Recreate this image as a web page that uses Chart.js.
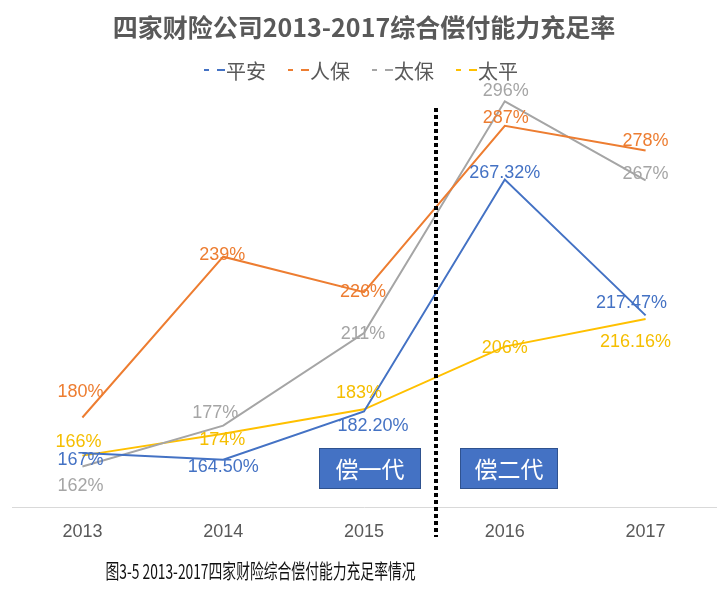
<!DOCTYPE html>
<html><head><meta charset="utf-8">
<script src="https://cdn.jsdelivr.net/npm/chart.js@4.4.1/dist/chart.umd.min.js"></script>
<style>html,body{margin:0;padding:0;background:#fff}#wrap{width:720px;height:590px;position:relative}</style>
</head><body><div id="wrap"><canvas id="c" width="720" height="590"></canvas></div>
<script>
// ---- data ----
const years = ['2013', '2014', '2015', '2016', '2017'];
const seriesNames = ['平安', '人保', '太保', '太平'];
const pingan = [167, 164.5, 182.2, 267.32, 217.47];
const renbao = [180, 239, 226, 287, 278];
const taibao = [162, 177, 211, 296, 267];
const taiping = [166, 174, 183, 206, 216.16];
const pinganLabels = ['167%', '164.50%', '182.20%', '267.32%', '217.47%'];
const renbaoLabels = ['180%', '239%', '226%', '287%', '278%'];
const taibaoLabels = ['162%', '177%', '211%', '296%', '267%'];
const taipingLabels = ['166%', '174%', '183%', '206%', '216.16%'];
const title = '四家财险公司2013-2017综合偿付能力充足率';
const caption = '图3-5 2013-2017四家财险综合偿付能力充足率情况';
const phaseLabels = ['偿一代', '偿二代'];

// ---- styles ----
const colors = ['#4472C4', '#ED7D31', '#A5A5A5', '#FFC000'];
const labelColors = ['#4472C4', '#ED7D31', '#A5A5A5', '#F5BE00'];
const labelOffsets = [
  [[-2, 7], [0, 7], [9, 15], [0, -6], [-14, -12]],
  [[-2, -25], [-1, -2], [-1, 0], [1, -8], [0, -9]],
  [[-2, 20], [-8, -13], [-1, 1], [1, -10], [0, -6]],
  [[-4, -14], [-1, 6], [-5, -16], [0, 1], [-10, 23]]
];
const allValues = [pingan, renbao, taibao, taiping];
const allLabels = [pinganLabels, renbaoLabels, taibaoLabels, taipingLabels];

const datasets = seriesNames.map((n, i) => ({
  label: n,
  data: allValues[i],
  borderColor: colors[i],
  backgroundColor: colors[i],
  borderWidth: 2,
  pointRadius: 0,
  tension: 0,
  fill: false
}));

const labelPlugin = {
  id: 'labels',
  afterDatasetsDraw(chart) {
    const ctx = chart.ctx;
    // divider
    const xs = chart.scales.x;
    const dx = Math.round(xs.getPixelForValue(2.5)) + 2;
    ctx.save();
    ctx.strokeStyle = '#000';
    ctx.lineWidth = 4;
    ctx.setLineDash([4, 3]);
    ctx.beginPath();
    ctx.moveTo(dx, 108);
    ctx.lineTo(dx, 537);
    ctx.stroke();
    ctx.restore();

    // data labels
    ctx.save();
    ctx.font = '18px "Liberation Sans", Arial, sans-serif';
    ctx.textAlign = 'center';
    ctx.textBaseline = 'middle';
    chart.data.datasets.forEach((ds, i) => {
      const meta = chart.getDatasetMeta(i);
      meta.data.forEach((pt, j) => {
        const o = labelOffsets[i][j];
        ctx.fillStyle = labelColors[i];
        ctx.fillText(allLabels[i][j], pt.x + o[0], pt.y + o[1]);
      });
    });
    ctx.restore();

    // phase boxes
    const boxes = [[dx - 117, 448, 102, 41], [dx + 24, 448, 98, 41]];
    ctx.save();
    boxes.forEach((b, k) => {
      ctx.fillStyle = '#4472C4';
      ctx.fillRect(b[0], b[1], b[2], b[3]);
      ctx.strokeStyle = '#2F528F';
      ctx.lineWidth = 1;
      ctx.strokeRect(b[0] + 0.5, b[1] + 0.5, b[2] - 1, b[3] - 1);
      ctx.fillStyle = '#fff';
      ctx.font = '23px "Noto Sans CJK SC", sans-serif';
      ctx.textAlign = 'center';
      ctx.textBaseline = 'middle';
      ctx.fillText(phaseLabels[k], b[0] + b[2] / 2, b[1] + b[3] / 2 + 1);
    });
    ctx.restore();
  },
  afterDraw(chart) {
    const ctx = chart.ctx;
    // legend (dashed key + name)
    ctx.save();
    ctx.font = '20px "Noto Sans CJK SC", sans-serif';
    ctx.textBaseline = 'middle';
    const gap = 22, keyW = 21, ly = 70;
    const widths = seriesNames.map(n => keyW + 1 + ctx.measureText(n).width);
    const total = widths.reduce((a, b) => a + b, 0) + gap * (widths.length - 1);
    let x = 361 - total / 2;
    seriesNames.forEach((n, i) => {
      ctx.strokeStyle = colors[i];
      ctx.lineWidth = 2;
      ctx.beginPath();
      ctx.moveTo(x, ly); ctx.lineTo(x + 5, ly);
      ctx.moveTo(x + 13, ly); ctx.lineTo(x + 21, ly);
      ctx.stroke();
      ctx.fillStyle = '#595959';
      ctx.textAlign = 'left';
      ctx.fillText(n, x + keyW + 1, ly + 1);
      x += widths[i] + gap;
    });
    ctx.restore();

    // caption
    ctx.save();
    ctx.translate(260.5, 571);
    ctx.scale(0.69, 1);
    ctx.fillStyle = '#111';
    ctx.font = '20px "Noto Sans CJK SC", sans-serif';
    ctx.textAlign = 'center';
    ctx.textBaseline = 'middle';
    ctx.fillText(caption, 0, 0);
    ctx.restore();
  }
};

new Chart(document.getElementById('c'), {
  type: 'line',
  data: { labels: years, datasets },
  options: {
    responsive: false,
    animation: false,
    devicePixelRatio: 1,
    layout: { padding: { left: 12, right: 4, top: 12, bottom: 41 } },
    plugins: {
      title: {
        display: true,
        text: title,
        color: '#595959',
        font: { family: '"Noto Sans CJK SC", sans-serif', size: 25, weight: 'bold' },
        padding: { top: 0, bottom: 43 }
      },
      legend: { display: false },
      tooltip: { enabled: false }
    },
    scales: {
      x: {
        offset: true,
        grid: { display: false },
        border: { display: true, color: '#D9D9D9', width: 1 },
        ticks: {
          color: '#595959',
          padding: 6,
          font: { family: '"Liberation Sans Narrow", "Liberation Sans", sans-serif', size: 18 }
        }
      },
      y: {
        display: false,
        min: 147,
        max: 302
      }
    }
  },
  plugins: [labelPlugin]
});
</script>
</body></html>
